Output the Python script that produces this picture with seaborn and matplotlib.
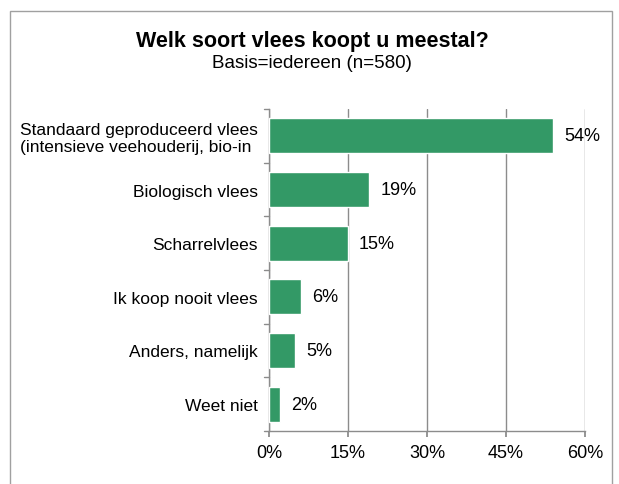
import matplotlib
matplotlib.use("Agg")
import matplotlib.pyplot as plt
import seaborn as sns
import pandas as pd
from matplotlib.patches import Rectangle

categories = [
    "Standaard geproduceerd vlees\n(intensieve veehouderij, bio-in",
    "Biologisch vlees",
    "Scharrelvlees",
    "Ik koop nooit vlees",
    "Anders, namelijk",
    "Weet niet",
]
values = [54, 19, 15, 6, 5, 2]
value_labels = ["54%", "19%", "15%", "6%", "5%", "2%"]
xticks = [0, 15, 30, 45, 60]
xtick_labels = ["0%", "15%", "30%", "45%", "60%"]

sns.set_theme(style="white")
plt.rcParams["font.family"] = ["Liberation Sans", "DejaVu Sans"]
plt.rcParams["text.color"] = "black"

df = pd.DataFrame({"cat": categories, "val": values})

fig = plt.figure(figsize=(6.19, 4.85), dpi=100)
ax = fig.add_axes([269/619, 1-432/485, (585-269)/619, (432-110)/485])

sns.barplot(data=df, x="val", y="cat", orient="h", color="#339966",
            saturation=1, width=0.65, ax=ax, zorder=3)

ax.set_xlim(0, 60)
ax.set_xticks(xticks)
ax.set_xticklabels(xtick_labels, fontsize=13, color="black")
ax.set_ylabel("")
ax.set_xlabel("")
ax.tick_params(axis="y", labelsize=12.5, length=0, pad=8, labelcolor="black")
ax.tick_params(axis="x", length=4, color="#888888", direction="out", bottom=True, pad=5)
for t in ax.get_yticklabels():
    t.set_multialignment("left")
    t.set_linespacing(1.15)

ax.grid(axis="x", color="#8c8c8c", linewidth=1, zorder=0)
ax.set_axisbelow(True)
for s in ["top", "right"]:
    ax.spines[s].set_visible(False)
for s in ["left", "bottom"]:
    ax.spines[s].set_color("#8c8c8c")
    ax.spines[s].set_linewidth(1)

n = len(categories)
for b in range(n + 1):
    yb = b - 0.5
    ax.plot([-0.9, 0], [yb, yb], color="#8c8c8c", lw=1, clip_on=False, zorder=4)

for i, (v, lab) in enumerate(zip(values, value_labels)):
    ax.annotate(lab, xy=(v, i), xytext=(8, 0), textcoords="offset points",
                va="center", ha="left", fontsize=13, color="black")

ax.set_ylim(n - 0.5, -0.5)

fig.text(312/619, 1-42/485, "Welk soort vlees koopt u meestal?", ha="center", va="center",
         fontsize=15.5, fontweight="bold")
fig.text(312/619, 1-63/485, "Basis=iedereen (n=580)", ha="center", va="center", fontsize=13.5)

fig.patches.append(Rectangle((10/619, -0.1), (612-10)/619, 1.1 - 12/485,
                             transform=fig.transFigure, fill=False,
                             edgecolor="#a0a0a0", linewidth=1))

fig.savefig("out.png", dpi=100)
